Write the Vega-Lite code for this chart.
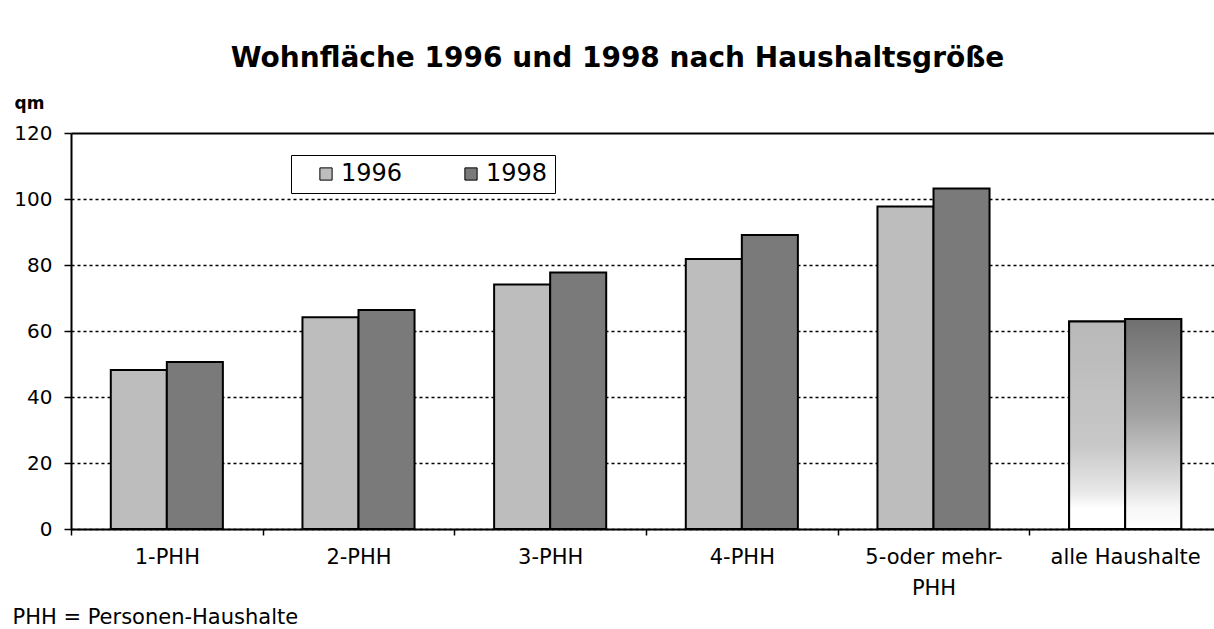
{
  "$schema": "https://vega.github.io/schema/vega-lite/v6.json",
  "width": 1143,
  "height": 396,
  "autosize": {"type": "none"},
  "padding": {"left": 71, "top": 133, "right": 0, "bottom": 100},
  "background": "white",
  "config": {"view": {"stroke": null}, "font": "DejaVu Sans"},
  "title": {
    "text": "Wohnfläche 1996 und 1998 nach Haushaltsgröße",
    "font": "DejaVu Sans",
    "fontSize": 28,
    "fontWeight": "bold",
    "color": "black",
    "anchor": "middle",
    "dx": -25,
    "offset": 21
  },
  "data": {
    "values": [
      {"haushalt": "1-PHH", "jahr": "1996", "qm": 48.2},
      {"haushalt": "1-PHH", "jahr": "1998", "qm": 50.6},
      {"haushalt": "2-PHH", "jahr": "1996", "qm": 64.2},
      {"haushalt": "2-PHH", "jahr": "1998", "qm": 66.4},
      {"haushalt": "3-PHH", "jahr": "1996", "qm": 74.1},
      {"haushalt": "3-PHH", "jahr": "1998", "qm": 77.7},
      {"haushalt": "4-PHH", "jahr": "1996", "qm": 81.8},
      {"haushalt": "4-PHH", "jahr": "1998", "qm": 89.1},
      {"haushalt": "5-oder mehr-PHH", "jahr": "1996", "qm": 97.7},
      {"haushalt": "5-oder mehr-PHH", "jahr": "1998", "qm": 103.2},
      {"haushalt": "alle Haushalte", "jahr": "1996", "qm": 62.9},
      {"haushalt": "alle Haushalte", "jahr": "1998", "qm": 63.6}
    ]
  },
  "layer": [
    {
      "mark": {"type": "bar", "stroke": "black", "strokeWidth": 2},
      "encoding": {
        "x": {
          "field": "haushalt",
          "type": "nominal",
          "scale": {
            "domain": ["1-PHH", "2-PHH", "3-PHH", "4-PHH", "5-oder mehr-PHH", "alle Haushalte"],
            "range": [0, 1150],
            "paddingInner": 0,
            "paddingOuter": 0
          },
          "axis": {
            "title": "PHH = Personen-Haushalte",
            "titleX": -59,
            "titleY": 88,
            "titleAlign": "left",
            "titleBaseline": "middle",
            "titleFontSize": 21,
            "titleFontWeight": "normal",
            "titleColor": "black",
            "labelAngle": 0,
            "labelFontSize": 21,
            "labelColor": "black",
            "labelPadding": 11,
            "labelLimit": 0,
            "labelLineHeight": 31,
            "labelExpr": "datum.label === '5-oder mehr-PHH' ? ['5-oder mehr-', 'PHH'] : datum.label",
            "tickBand": "extent",
            "tickSize": 6,
            "tickColor": "black",
            "tickWidth": 1.5,
            "domainColor": "black",
            "domainWidth": 2
          }
        },
        "xOffset": {
          "field": "jahr",
          "type": "nominal",
          "scale": {"domain": ["1996", "1998"], "paddingInner": 0, "paddingOuter": 0.71}
        },
        "y": {
          "field": "qm",
          "type": "quantitative",
          "scale": {"domain": [0, 120]},
          "axis": {
            "values": [0, 20, 40, 60, 80, 100, 120],
            "title": "qm",
            "titleAngle": 0,
            "titleAlign": "left",
            "titleBaseline": "middle",
            "titleX": -57,
            "titleY": -30,
            "titleFontSize": 17,
            "titleFontWeight": "bold",
            "titleColor": "black",
            "labelFontSize": 20,
            "labelColor": "black",
            "labelPadding": 12,
            "tickSize": 7,
            "tickColor": "black",
            "tickWidth": 1.5,
            "domainColor": "black",
            "domainWidth": 2,
            "grid": true,
            "gridColor": "black",
            "gridDash": {"condition": {"test": "datum.value === 120", "value": []}, "value": [3, 3]},
            "gridWidth": {"condition": {"test": "datum.value === 120", "value": 2}, "value": 1.5}
          }
        },
        "color": {
          "field": "jahr",
          "type": "nominal",
          "scale": {"domain": ["1996", "1998"], "range": ["#bdbdbd", "#7a7a7a"]},
          "legend": {
            "orient": "none",
            "legendX": 220,
            "legendY": 22,
            "direction": "horizontal",
            "title": null,
            "strokeColor": "black",
            "padding": 7,
            "symbolOffset": 16,
            "symbolType": "square",
            "symbolSize": 150,
            "symbolStrokeColor": "black",
            "symbolStrokeWidth": 1,
            "symbolOpacity": 1,
            "labelFontSize": 24,
            "labelColor": "black",
            "labelOffset": 3,
            "columnPadding": 40
          }
        }
      }
    },
    {
      "transform": [{"filter": "datum.haushalt === 'alle Haushalte' && datum.jahr === '1996'"}],
      "mark": {
        "type": "bar",
        "stroke": "black",
        "strokeWidth": 2,
        "fill": {
          "gradient": "linear",
          "x1": 0, "y1": 0, "x2": 0, "y2": 1,
          "stops": [
            {"offset": 0, "color": "#b8b8b8"},
            {"offset": 0.6, "color": "#c8c8c8"},
            {"offset": 0.82, "color": "#e8e8e8"},
            {"offset": 0.9, "color": "#ffffff"},
            {"offset": 1, "color": "#ffffff"}
          ]
        }
      },
      "encoding": {
        "x": {"field": "haushalt", "type": "nominal"},
        "xOffset": {"field": "jahr", "type": "nominal"},
        "y": {"field": "qm", "type": "quantitative"}
      }
    },
    {
      "transform": [{"filter": "datum.haushalt === 'alle Haushalte' && datum.jahr === '1998'"}],
      "mark": {
        "type": "bar",
        "stroke": "black",
        "strokeWidth": 2,
        "fill": {
          "gradient": "linear",
          "x1": 0, "y1": 0, "x2": 0, "y2": 1,
          "stops": [
            {"offset": 0, "color": "#707070"},
            {"offset": 0.45, "color": "#a0a0a0"},
            {"offset": 0.78, "color": "#dcdcdc"},
            {"offset": 0.9, "color": "#f7f7f7"},
            {"offset": 1, "color": "#ffffff"}
          ]
        }
      },
      "encoding": {
        "x": {"field": "haushalt", "type": "nominal"},
        "xOffset": {"field": "jahr", "type": "nominal"},
        "y": {"field": "qm", "type": "quantitative"}
      }
    }
  ]
}
